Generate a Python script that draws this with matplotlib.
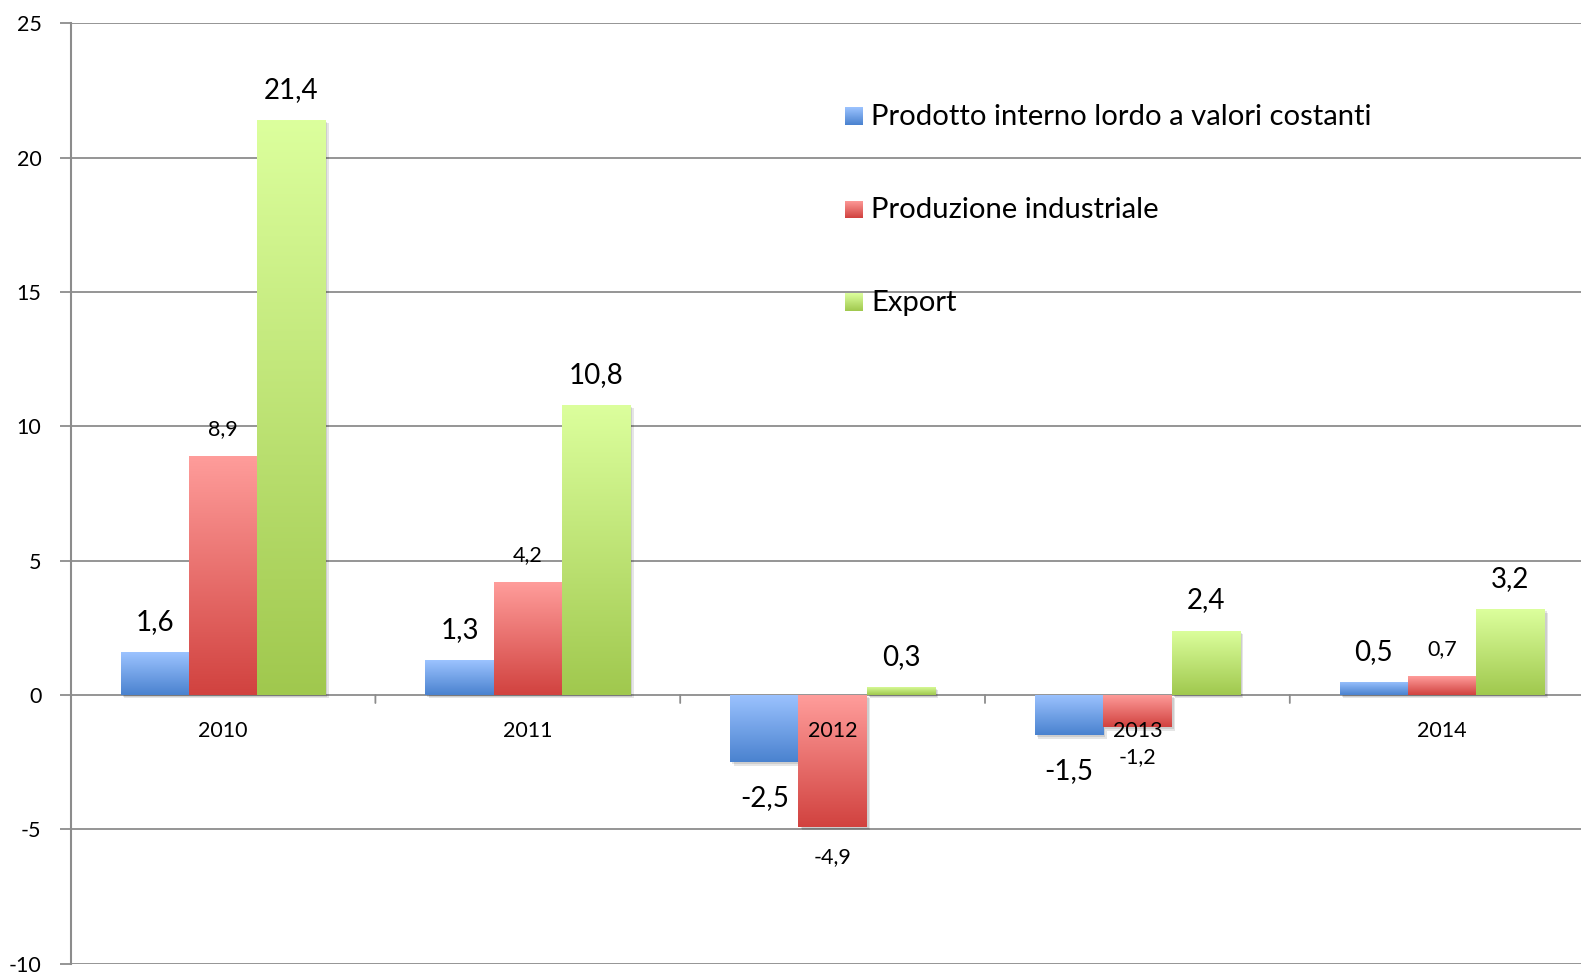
import numpy as np
import matplotlib
matplotlib.use("Agg")
import matplotlib.pyplot as plt
from matplotlib.colors import LinearSegmentedColormap
from matplotlib import patheffects as pe

plt.rcParams["font.family"] = ["Lato", "DejaVu Sans"]

# --- data -------------------------------------------------------------
years = ["2010", "2011", "2012", "2013", "2014"]
series_names = [
    "Prodotto interno lordo a valori costanti",
    "Produzione industriale",
    "Export",
]
pil = [1.6, 1.3, -2.5, -1.5, 0.5]
produzione = [8.9, 4.2, -4.9, -1.2, 0.7]
export = [21.4, 10.8, 0.3, 2.4, 3.2]
y_ticks = [-10, -5, 0, 5, 10, 15, 20, 25]

series_values = [pil, produzione, export]
# (top colour, bottom colour) of each series' vertical gradient
gradients = [
    ("#9cc3ff", "#4a82cf"),
    ("#ff9d9b", "#d1423f"),
    ("#dcff9d", "#a0c84e"),
]
label_sizes = [20, 15.5, 20]
gap_above = [30, 27, 30]
gap_below = [36, 30, 36]

GRID = "#8c8c8c"


def fmt(v):
    return f"{v:.1f}".replace(".", ",")


fig = plt.figure(figsize=(15.81, 9.73), dpi=100)
W, H = 1581, 973
ax = fig.add_axes([70.6 / W, 1 - 963.7 / H, 1524 / W, 940.4 / H])

n = len(years)
x = np.arange(n)
bw = 0.224

shadow = [
    pe.SimplePatchShadow(offset=(2.5, -2.5), shadow_rgbFace="#000000", alpha=0.10),
    pe.SimplePatchShadow(offset=(1.5, -1.5), shadow_rgbFace="#000000", alpha=0.10),
    pe.Normal(),
]

for s, vals in enumerate(series_values):
    top, bottom = gradients[s]
    cmap = LinearSegmentedColormap.from_list(f"g{s}", [top, bottom])
    xs = x + (s - 1) * bw
    bars = ax.bar(xs, vals, width=bw, color=bottom, zorder=3,
                  linewidth=0, path_effects=shadow)
    grad = np.linspace(0, 1, 256).reshape(-1, 1)
    for xi, v, bar in zip(xs, vals, bars):
        y0, y1 = min(0, v), max(0, v)
        im = ax.imshow(grad, cmap=cmap, aspect="auto", origin="upper",
                       extent=[xi - bw / 2, xi + bw / 2, y0, y1],
                       zorder=4, interpolation="bilinear")
        im.set_clip_path(bar)
        gap = gap_above[s] if v >= 0 else -gap_below[s]
        ax.annotate(fmt(v), (xi, v), xytext=(0, gap), textcoords="offset pixels",
                    ha="center", va="center", fontsize=label_sizes[s],
                    color="black", zorder=6)

ax.set_xlim(-0.5, n - 0.5)
ax.set_ylim(y_ticks[0], y_ticks[-1])

# gridlines and axes
for yt in y_ticks:
    ax.axhline(yt, color=GRID, lw=1.3, zorder=1)
for sp in ["top", "right", "bottom"]:
    ax.spines[sp].set_visible(False)
ax.spines["left"].set_color(GRID)
ax.spines["left"].set_linewidth(1.5)

ax.set_yticks(y_ticks)
ax.set_yticklabels([str(t) for t in y_ticks])
ax.tick_params(axis="y", length=8, width=1.3, color=GRID, pad=13,
               labelsize=15.5, labelcolor="black")

# category boundary ticks hanging from the zero line
ax.set_xticks([])
for b in np.arange(0.5, n - 0.5, 1.0):
    ax.annotate("", xy=(b, 0), xytext=(0, -8), textcoords="offset pixels",
                arrowprops=dict(arrowstyle="-", color=GRID, lw=1.3,
                                shrinkA=0, shrinkB=0))

# category labels, drawn above the bars
for xi, yr in zip(x, years):
    ax.annotate(yr, (xi, 0), xytext=(0, -36), textcoords="offset pixels",
                ha="center", va="center", fontsize=15.5, color="black", zorder=7)

# legend with gradient swatches
row_y = [116, 209.5, 302]
for s, name in enumerate(series_names):
    top, bottom = gradients[s]
    cmap = LinearSegmentedColormap.from_list(f"l{s}", [top, bottom])
    sw = fig.add_axes([845 / W, 1 - (row_y[s] + 9) / H, 18 / W, 18 / H])
    sw.imshow(np.linspace(0, 1, 64).reshape(-1, 1), cmap=cmap, aspect="auto",
              origin="upper")
    sw.set_axis_off()
    fig.text(871 / W, 1 - (row_y[s] + 1) / H, name, ha="left", va="center",
             fontsize=21.1, color="black")

fig.savefig("out.png", dpi=100)
